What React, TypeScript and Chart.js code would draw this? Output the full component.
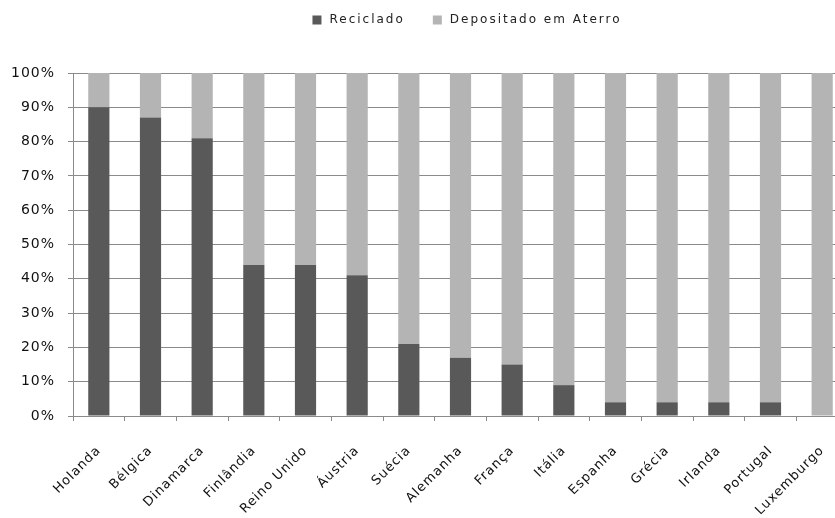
import React, { useEffect, useRef } from "react";
import { Chart, registerables } from "chart.js";

Chart.register(...registerables);

const categories = [
  "Holanda", "Bélgica", "Dinamarca", "Finlândia", "Reino Unido", "Áustria", "Suécia",
  "Alemanha", "França", "Itália", "Espanha", "Grécia", "Irlanda", "Portugal", "Luxemburgo",
];
const reciclado = [90, 87, 81, 44, 44, 41, 21, 17, 15, 9, 4, 4, 4, 4, 0];
const depositado = [10, 13, 19, 56, 56, 59, 79, 83, 85, 91, 96, 96, 96, 96, 100];
const seriesNames = ["Reciclado", "Depositado em Aterro"];
const seriesColors = ["#595959", "#b4b4b4"];

const FONT = '"DejaVu Sans", sans-serif';

const spacingPlugin = {
  id: "spacing",
  beforeLayout(chart: any) {
    chart.ctx.letterSpacing = "1px";
  },
  beforeDraw(chart: any) {
    chart.ctx.letterSpacing = "1px";
  },
};

const legendPlugin = {
  id: "customLegend",
  afterDraw(chart: any) {
    const ctx = chart.ctx;
    ctx.save();
    ctx.letterSpacing = "2px";
    ctx.font = `12px ${FONT}`;
    ctx.textBaseline = "middle";
    ctx.textAlign = "left";
    const items = chart.data.datasets.map((d: any) => ({ label: d.label, color: d.backgroundColor }));
    const box = 9, gap = 8, itemGap = 28;
    const widths = items.map((i: any) => ctx.measureText(i.label).width);
    const total = widths.reduce((a: number, w: number) => a + box + gap + w, 0) + itemGap * (items.length - 1);
    let x = chart.width / 2 - total / 2;
    const y = 20;
    items.forEach((it: any, i: number) => {
      ctx.fillStyle = it.color;
      ctx.fillRect(x, y - box / 2, box, box);
      x += box + gap;
      ctx.fillStyle = "#222";
      ctx.fillText(it.label, x, y);
      x += widths[i] + itemGap;
    });
    ctx.restore();
  },
};

export default function App() {
  const ref = useRef<HTMLCanvasElement>(null);
  useEffect(() => {
    if (!ref.current) return;
    const chart = new Chart(ref.current, {
      type: "bar",
      data: {
        labels: categories,
        datasets: [
          { label: seriesNames[0], data: reciclado, backgroundColor: seriesColors[0], categoryPercentage: 1, barPercentage: 0.41 },
          { label: seriesNames[1], data: depositado, backgroundColor: seriesColors[1], categoryPercentage: 1, barPercentage: 0.41 },
        ],
      },
      options: {
        responsive: false,
        animation: false,
        devicePixelRatio: 1,
        layout: { padding: { top: 73, right: 86, left: 0, bottom: 0 } },
        plugins: {
          legend: { display: false },
          tooltip: { enabled: false },
        },
        scales: {
          x: {
            stacked: true,
            grid: { drawOnChartArea: false, drawTicks: true, tickLength: 5, color: "#8a8a8a", offset: true },
            border: { display: true, color: "#8a8a8a" },
            ticks: {
              autoSkip: false,
              minRotation: 45,
              maxRotation: 45,
              padding: 22,
              color: "#111",
              font: { family: FONT, size: 13 },
            },
            afterFit(scale: any) {
              scale.height = 102;
            },
          },
          y: {
            stacked: true,
            min: 0,
            max: 100,
            grid: { color: "#8a8a8a", tickLength: 5, drawTicks: true },
            border: { display: true, color: "#8a8a8a" },
            ticks: {
              stepSize: 10,
              padding: 13,
              color: "#111",
              font: { family: FONT, size: 14 },
              callback: (v: any) => `${v}%`,
            },
            afterFit(scale: any) {
              scale.width = 73;
            },
          },
        },
      },
      plugins: [spacingPlugin, legendPlugin],
    });
    return () => chart.destroy();
  }, []);
  return (
    <div style={{ position: "absolute", left: 0, top: 0, width: 835, height: 518, overflow: "hidden", background: "#fff" }}>
      <canvas ref={ref} width={934} height={518} style={{ display: "block" }} />
    </div>
  );
}
